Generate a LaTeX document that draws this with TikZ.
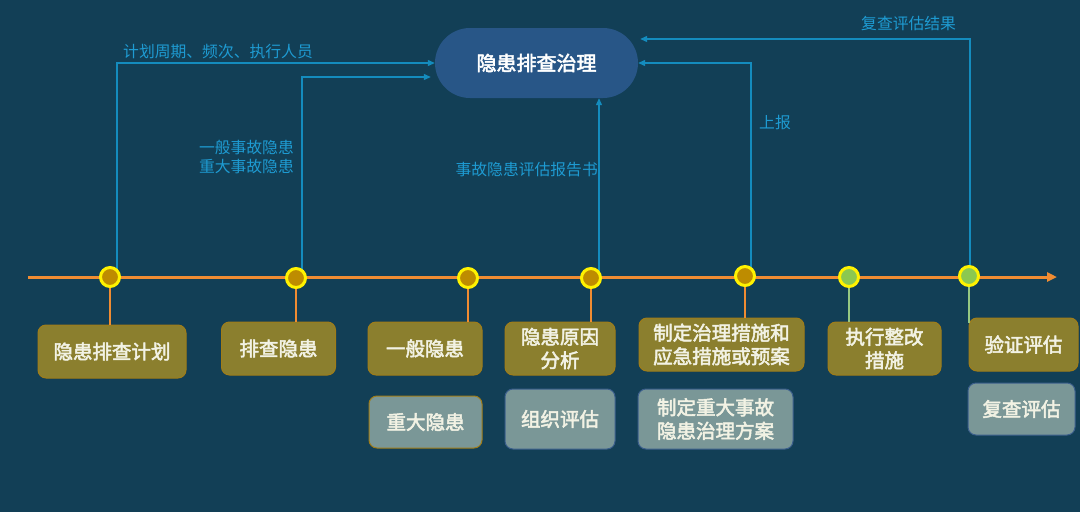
\documentclass[tikz,border=0pt]{standalone}
\usepackage{fontspec}
\setmainfont{Noto Sans CJK SC}
\newfontfamily\medfont[FakeBold=2.6]{Noto Sans CJK SC}
\usetikzlibrary{arrows.meta,calc}
\definecolor{bg}{RGB}{18,63,86}
\definecolor{olive}{RGB}{139,127,46}
\definecolor{oliveborder}{RGB}{160,125,25}
\definecolor{greybox}{RGB}{122,151,151}
\definecolor{greyborder}{RGB}{60,95,140}
\definecolor{ovalfill}{RGB}{40,86,135}
\definecolor{bluel}{RGB}{20,140,190}
\definecolor{bluetxt}{RGB}{30,155,210}
\definecolor{orangel}{RGB}{240,140,50}
\definecolor{goldfill}{RGB}{190,140,0}
\definecolor{greenfill}{RGB}{140,200,80}
\definecolor{greenstem}{RGB}{150,200,130}
\definecolor{boxtxt}{RGB}{242,242,228}
\tikzset{
  stagebox/.style={draw=oliveborder, line width=1pt, fill=olive, rounded corners=8pt,
    text=boxtxt, font=\medfont\fontsize{19.5}{23.5}\selectfont, align=center, inner sep=0pt},
  subbox/.style={draw=greyborder, line width=1pt, fill=greybox, rounded corners=8pt,
    text=boxtxt, font=\medfont\fontsize{19.5}{23.5}\selectfont, align=center, inner sep=0pt},
  dotgold/.style={circle, draw=yellow, line width=3pt, fill=goldfill, minimum size=19pt, inner sep=0pt},
  dotgreen/.style={circle, draw=yellow, line width=3pt, fill=greenfill, minimum size=19pt, inner sep=0pt},
  flow/.style={draw=bluel, line width=1.2pt, -{Triangle[length=7pt,width=6pt]}},
  flowlabel/.style={text=bluetxt, font=\fontsize{15.8}{19}\selectfont, inner sep=0pt},
  stemo/.style={draw=orangel, line width=2.5pt},
  stemg/.style={draw=greenstem, line width=2.5pt},
}
\begin{document}
\begin{tikzpicture}[x=1pt,y=-1pt]
\fill[bg] (0,0) rectangle (1080,512);
\useasboundingbox (0,0) rectangle (1080,512);

% point coordinates on the timeline
\coordinate (p1) at (110,277);
\coordinate (p2) at (296,278);
\coordinate (p3) at (468,278);
\coordinate (p4) at (591,278);
\coordinate (p5) at (745,276);
\coordinate (p6) at (849,277);
\coordinate (p7) at (969,276);
\coordinate (tlstart) at (28,277);
\coordinate (tlend) at (1057,277);

% top node
\node[draw=none, fill=ovalfill, rounded corners=35pt, minimum width=203pt, minimum height=70pt,
  text=white, font=\medfont\fontsize{20}{24}\selectfont] (top) at (536.5,63) {隐患排查治理};

% boxes
\node[stagebox, minimum width=148pt, minimum height=53pt] (b1) at (112,351.5) {隐患排查计划};
\node[stagebox, minimum width=114pt, minimum height=53pt] (b2) at (278.5,348.5) {排查隐患};
\node[stagebox, minimum width=114pt, minimum height=53pt] (b3) at (425,348.5) {一般隐患};
\node[subbox, draw=oliveborder, minimum width=113pt, minimum height=52pt] (s3) at (425.5,422) {重大隐患};
\node[stagebox, minimum width=110pt, minimum height=53pt] (b4) at (560,348.5) {隐患原因\\分析};
\node[subbox, minimum width=110pt, minimum height=60pt] (s4) at (560,419) {组织评估};
\node[stagebox, minimum width=165pt, minimum height=53pt] (b5) at (721.5,344.5) {制定治理措施和\\应急措施或预案};
\node[subbox, minimum width=155pt, minimum height=60pt] (s5) at (715.5,419) {制定重大事故\\隐患治理方案};
\node[stagebox, minimum width=113pt, minimum height=53pt] (b6) at (884.5,348.5) {执行整改\\措施};
\node[stagebox, minimum width=109pt, minimum height=53pt] (b7) at (1023.5,344.5) {验证评估};
\node[subbox, minimum width=107pt, minimum height=52pt] (s7) at (1021.5,409) {复查评估};

% blue flow connectors
\coordinate (a1) at ($(p1)+(7,0)$);
\coordinate (a2) at ($(p2)+(6,0)$);
\coordinate (a3) at ($(p4)+(8,0)$);
\coordinate (a4) at ($(p5)+(6,0)$);
\coordinate (a5) at ($(p7)+(1,0)$);
\coordinate (t2) at ($(top.west)+(-4,14)$);
\coordinate (t5) at ($(top.east)+(2,-24)$);
\draw[flow] (a1) |- (top.west);
\draw[flow] (a2) |- (t2);
\draw[flow] (a3) -- (a3 |- top.south);
\draw[flow] (a4) |- (top.east);
\draw[flow] (a5) |- (t5);

% flow labels
\node[flowlabel, anchor=west] (l1) at (123,52) {计划周期、频次、执行人员};
\node[flowlabel, anchor=east, align=right] (l2) at (294,157) {一般事故隐患\\重大事故隐患};
\node[flowlabel, anchor=east] (l3) at (598,170) {事故隐患评估报告书};
\node[flowlabel, anchor=west] (l4) at (759,123) {上报};
\node[flowlabel, anchor=west] (l5) at (861,23) {复查评估结果};

% timeline
\draw[orangel, line width=3pt, -{Triangle[length=10pt,width=9pt]}] (tlstart) -- (tlend);

% stems
\draw[stemo] (p1) -- (p1 |- b1.north);
\draw[stemo] (p2) -- (p2 |- b2.north);
\draw[stemo] (p3) -- (p3 |- b3.north);
\draw[stemo] (p4) -- (p4 |- b4.north);
\draw[stemo] (p5) -- (p5 |- b5.north);
\draw[stemg] (p6) -- (p6 |- b6.north);
\draw[stemg] (p7) -- ($(p7 |- b7.north)+(0,5)$);

% dots
\node[dotgold] (c1) at (p1) {};
\node[dotgold] (c2) at (p2) {};
\node[dotgold] (c3) at (p3) {};
\node[dotgold] (c4) at (p4) {};
\node[dotgold] (c5) at (p5) {};
\node[dotgreen] (c6) at (p6) {};
\node[dotgreen] (c7) at (p7) {};
\end{tikzpicture}
\end{document}
